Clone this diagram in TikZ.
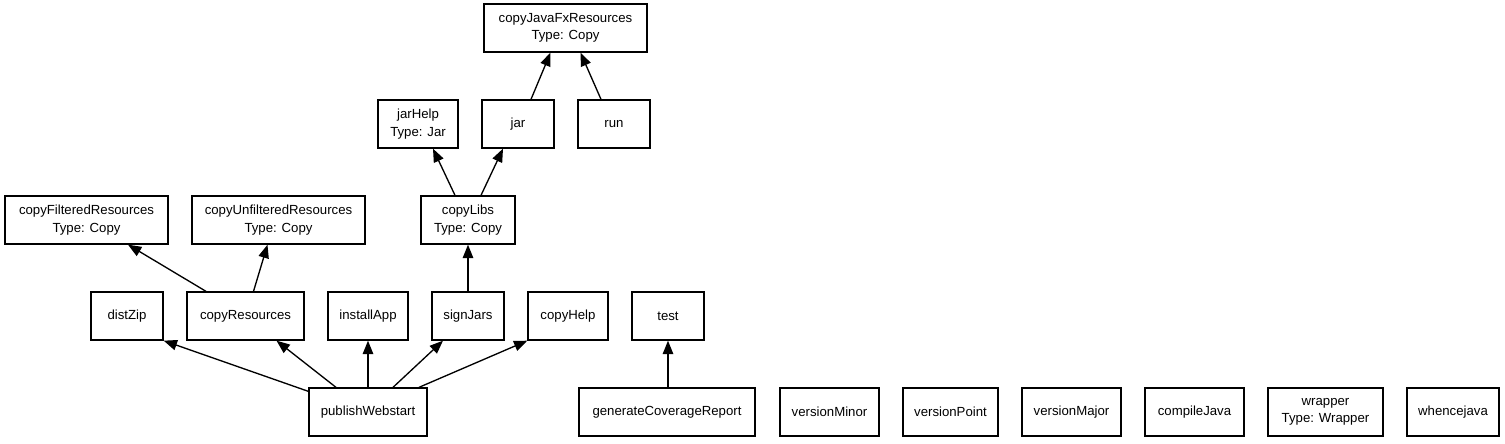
\documentclass[tikz,border=0pt]{standalone}
\usepackage{fontspec}
\setmainfont{Liberation Sans}
\usetikzlibrary{arrows.meta,calc}

\tikzset{
  tarefa/.style={draw, line width=1pt, minimum height=36pt, inner sep=0pt,
    align=center, font=\fontsize{9.9pt}{13.2pt}\selectfont},
  dep/.style={line width=1pt, -{Triangle[length=10pt,width=7.8pt]}}
}

\begin{document}
\begin{tikzpicture}[x=0.75pt, y=-0.75pt]
        \useasboundingbox (0,0) rectangle (1505,443);

        % Linha 1
        \node[tarefa, minimum width=122.25pt] (cjfx) at (565.5,28) {copyJavaFxResources\\Type: Copy};

        % Linha 2
        \node[tarefa, minimum width=60pt] (jh) at (418,124) {jarHelp\\Type: Jar};
        \node[tarefa, minimum width=54pt] (jar) at (518,124) {jar};
        \node[tarefa, minimum width=54pt] (run) at (614,124) {run};

        % Linha 3
        \node[tarefa, minimum width=122.25pt] (cfr) at (86.5,220) {copyFilteredResources\\Type: Copy};
        \node[tarefa, minimum width=129.75pt] (cur) at (278.5,220) {copyUnfilteredResources\\Type: Copy};
        \node[tarefa, minimum width=70.5pt] (cl) at (468,220) {copyLibs\\Type: Copy};

        % Linha 4
        \node[tarefa, minimum width=54pt] (dz) at (127,316) {distZip};
        \node[tarefa, minimum width=87.75pt] (cr) at (245.5,316) {copyResources};
        \node[tarefa, minimum width=60pt] (ia) at (368,316) {installApp};
        \node[tarefa, minimum width=54pt] (sj) at (468,316) {signJars};
        \node[tarefa, minimum width=60pt] (ch) at (568,316) {copyHelp};
        \node[tarefa, minimum width=54pt] (test) at (668,316) {test};

        % Linha 5
        \node[tarefa, minimum width=88.5pt] (pw) at (368,412) {publishWebstart};
        \node[tarefa, minimum width=132pt] (gcr) at (667,412) {generateCoverageReport};
        \node[tarefa, minimum width=74.25pt] (vmin) at (829.5,412) {versionMinor};
        \node[tarefa, minimum width=71.25pt] (vpt) at (950.5,412) {versionPoint};
        \node[tarefa, minimum width=74.25pt] (vmaj) at (1071.5,412) {versionMajor};
        \node[tarefa, minimum width=74.25pt] (cj) at (1194.5,412) {compileJava};
        \node[tarefa, minimum width=86.25pt] (wr) at (1325.5,412) {wrapper\\Type: Wrapper};
        \node[tarefa, minimum width=69pt] (wj) at (1453,412) {whencejava};

        % Dependências
        \draw[dep] ($(pw.north west)+(0,4)$) -- (dz.south east);
        \draw[dep] ($(pw.north)+(-32,0)$) -- ($(cr.south)+(31,0)$);
        \draw[dep] (pw) -- (ia);
        \draw[dep] ($(pw.north)+(25,0)$) -- ($(sj.south)+(-25,0)$);
        \draw[dep] ($(pw.north)+(51,0)$) -- (ch.south west);
        \draw[dep] (gcr.north -| test) -- (test);

        \draw[dep] ($(cr.north)+(-39.5,0)$) -- ($(cfr.south)+(41.5,0)$);
        \draw[dep] ($(cr.north)+(8,0)$) -- ($(cur.south)+(-11,0)$);
        \draw[dep] (sj) -- (cl);

        \draw[dep] ($(cl.north)+(-13,0)$) -- ($(jh.south)+(15,0)$);
        \draw[dep] ($(cl.north)+(13,0)$) -- ($(jar.south)+(-15,0)$);
        \draw[dep] ($(jar.north)+(13,0)$) -- ($(cjfx.south)+(-15,0)$);
        \draw[dep] ($(run.north)+(-13,0)$) -- ($(cjfx.south)+(15,0)$);
    \end{tikzpicture}
\end{document}
